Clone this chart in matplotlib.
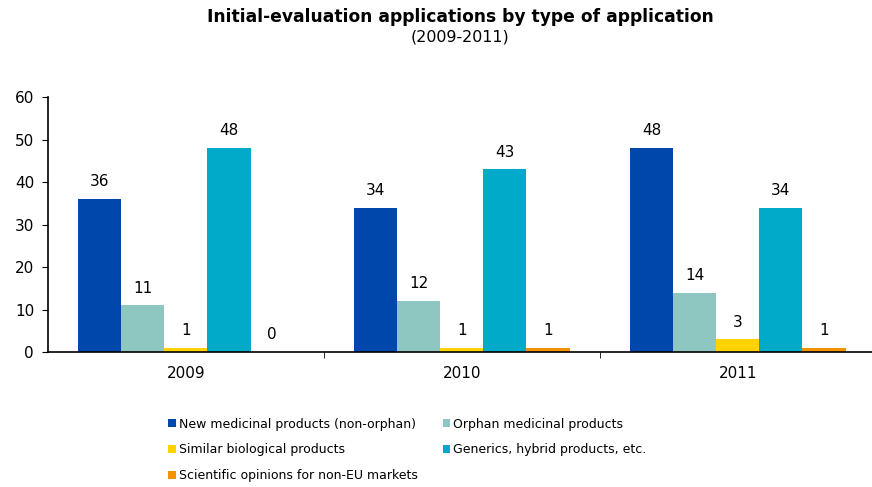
import matplotlib
matplotlib.use("Agg")
import matplotlib.pyplot as plt
import numpy as np

years = ["2009", "2010", "2011"]
series_names = [
    "New medicinal products (non-orphan)",
    "Orphan medicinal products",
    "Similar biological products",
    "Generics, hybrid products, etc.",
    "Scientific opinions for non-EU markets",
]
new_medicinal = [36, 34, 48]
orphan = [11, 12, 14]
similar_bio = [1, 1, 3]
generics = [48, 43, 34]
non_eu = [0, 1, 1]
colors = ["#0047AB", "#8EC6C1", "#FFD200", "#00AAC8", "#F39200"]

plt.rcParams["font.family"] = ["DejaVu Sans"]

fig = plt.figure(figsize=(8.72, 4.87), dpi=100)
ax = fig.add_axes([0.055, 0.2772, 0.945, 0.5236])

x = np.arange(len(years))
width = 0.156
all_series = [new_medicinal, orphan, similar_bio, generics, non_eu]
handles = []
for i, (vals, name, c) in enumerate(zip(all_series, series_names, colors)):
    pos = x + (i - 2) * width
    h = ax.bar(pos, vals, width=width, color=c, label=name)
    handles.append(h)
    for px, v in zip(pos, vals):
        ax.annotate(str(v), (px, v), xytext=(0, 7), textcoords="offset points",
                    ha="center", va="bottom", fontsize=11)

ax.set_xlim(-0.5, 2.486)
ax.set_ylim(0, 60)
ax.set_yticks(range(0, 61, 10))
ax.set_xticks(x)
ax.set_xticklabels(years, fontsize=11)
ax.set_xticks([0.5, 1.5], minor=True)
ax.tick_params(axis="x", which="major", length=0, pad=10)
ax.tick_params(axis="x", which="minor", length=4, direction="out")
ax.tick_params(axis="y", labelsize=11, length=4, direction="out", pad=6)
for s in ["top", "right"]:
    ax.spines[s].set_visible(False)
ax.spines["left"].set_linewidth(1.2)
ax.spines["bottom"].set_linewidth(1.2)

fig.text(0.528, 0.965, "Initial-evaluation applications by type of application",
         ha="center", va="center", fontsize=12.3, fontweight="bold")
fig.text(0.527, 0.925, "(2009-2011)", ha="center", va="center", fontsize=11.4)

# matplotlib fills legend columns first; reorder so it reads row by row
order = [0, 2, 4, 1, 3]
ax.legend([handles[k] for k in order], [series_names[k] for k in order],
          loc="upper left", bbox_to_anchor=(0.146, -0.257), ncol=2,
          frameon=False, fontsize=9, handlelength=0.6, handleheight=0.6,
          handletextpad=0.25, columnspacing=2.0, labelspacing=1.03,
          borderpad=0, borderaxespad=0)

fig.savefig("out.png", dpi=100)
